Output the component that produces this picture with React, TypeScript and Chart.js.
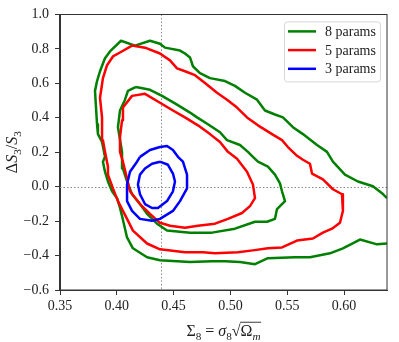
import React, { useEffect, useRef } from 'react';
import { Chart, registerables } from 'chart.js';

Chart.register(...registerables);

// ---------- data ----------
const seriesLabels = ['8 params', '5 params', '3 params'];
const seriesColors = ['#008000', '#ff0000', '#0000ff'];

const xTicks = [0.35, 0.4, 0.45, 0.5, 0.55, 0.6];
const yTicks = [-0.6, -0.4, -0.2, 0.0, 0.2, 0.4, 0.6, 0.8, 1.0];
const xMin = 0.35;
const xMax = 0.6378;
const yMin = -0.6;
const yMax = 1.0;
const refX = 0.4385;
const refY = 0.0;

// 8 params, outer contour
const p8OuterX = [0.6378, 0.6334, 0.6254, 0.6122, 0.6008, 0.5902, 0.5850, 0.5762, 0.5638, 0.5550, 0.5462, 0.5392, 0.5304, 0.5234, 0.5128, 0.5040, 0.4952, 0.4820, 0.4732, 0.4670, 0.4644, 0.4600, 0.4556, 0.4424, 0.4380, 0.4292, 0.4160, 0.4037, 0.3940, 0.3896, 0.3852, 0.3826, 0.3808, 0.3826, 0.3834, 0.3870, 0.3896, 0.3878, 0.3896, 0.3922, 0.3958, 0.4002, 0.4028, 0.4046, 0.4090, 0.4142, 0.4266, 0.4380, 0.4644, 0.4838, 0.4952, 0.5084, 0.5216, 0.5330, 0.5568, 0.5700, 0.5876, 0.5990, 0.6140, 0.6290, 0.6378];
const p8OuterY = [-0.067, -0.038, 0.002, 0.030, 0.070, 0.145, 0.202, 0.242, 0.305, 0.345, 0.402, 0.419, 0.442, 0.505, 0.545, 0.585, 0.613, 0.630, 0.659, 0.699, 0.750, 0.773, 0.790, 0.807, 0.830, 0.847, 0.819, 0.847, 0.785, 0.745, 0.670, 0.613, 0.556, 0.362, 0.305, 0.259, 0.173, 0.145, 0.087, 0.030, -0.027, -0.067, -0.124, -0.170, -0.295, -0.358, -0.410, -0.427, -0.438, -0.433, -0.433, -0.438, -0.450, -0.415, -0.410, -0.410, -0.387, -0.358, -0.307, -0.335, -0.330];

// 8 params, inner contour
const p8InnerX = [0.4169, 0.4292, 0.4398, 0.4530, 0.4644, 0.4706, 0.4802, 0.4908, 0.4970, 0.5084, 0.5154, 0.5198, 0.5242, 0.5330, 0.5392, 0.5436, 0.5454, 0.5480, 0.5410, 0.5392, 0.5322, 0.5216, 0.5040, 0.4838, 0.4644, 0.4442, 0.4354, 0.4266, 0.4204, 0.4134, 0.4090, 0.4054, 0.4046, 0.4010, 0.4028, 0.4072, 0.4098, 0.4169];
const p8InnerY = [0.579, 0.562, 0.527, 0.476, 0.430, 0.402, 0.362, 0.316, 0.270, 0.242, 0.202, 0.173, 0.145, 0.116, 0.070, 0.019, -0.027, -0.084, -0.130, -0.187, -0.204, -0.204, -0.244, -0.267, -0.267, -0.255, -0.215, -0.158, -0.101, -0.044, 0.030, 0.105, 0.202, 0.345, 0.442, 0.505, 0.556, 0.579];

// 5 params, outer contour
const p5OuterX = [0.4134, 0.4248, 0.4380, 0.4468, 0.4530, 0.4600, 0.4688, 0.4776, 0.4882, 0.4970, 0.5058, 0.5146, 0.5242, 0.5366, 0.5454, 0.5506, 0.5586, 0.5638, 0.5700, 0.5718, 0.5814, 0.5902, 0.5982, 0.5990, 0.5990, 0.5964, 0.5894, 0.5814, 0.5726, 0.5586, 0.5454, 0.5330, 0.5198, 0.5066, 0.4864, 0.4758, 0.4600, 0.4380, 0.4266, 0.4142, 0.4090, 0.4054, 0.4010, 0.3966, 0.3922, 0.3922, 0.3896, 0.3878, 0.3870, 0.3852, 0.3878, 0.3914, 0.3966, 0.4028, 0.4134];
const p5OuterY = [0.819, 0.807, 0.773, 0.733, 0.687, 0.670, 0.647, 0.602, 0.545, 0.505, 0.459, 0.402, 0.356, 0.305, 0.270, 0.230, 0.179, 0.156, 0.133, 0.076, 0.042, -0.015, -0.044, -0.084, -0.141, -0.210, -0.244, -0.267, -0.301, -0.313, -0.353, -0.358, -0.370, -0.381, -0.387, -0.381, -0.381, -0.364, -0.330, -0.255, -0.187, -0.141, -0.084, -0.010, 0.070, 0.116, 0.202, 0.270, 0.402, 0.516, 0.630, 0.705, 0.756, 0.779, 0.819];

// 5 params, inner contour
const p5InnerX = [0.4054, 0.4054, 0.4134, 0.4248, 0.4380, 0.4494, 0.4600, 0.4714, 0.4820, 0.4908, 0.4978, 0.5058, 0.5146, 0.5198, 0.5216, 0.5172, 0.5102, 0.4978, 0.4864, 0.4714, 0.4600, 0.4468, 0.4380, 0.4292, 0.4204, 0.4116, 0.4090, 0.4054, 0.4028, 0.4028, 0.4046, 0.4054];
const p5InnerY = [0.402, 0.459, 0.527, 0.539, 0.487, 0.442, 0.402, 0.356, 0.305, 0.259, 0.202, 0.162, 0.087, 0.013, -0.067, -0.113, -0.153, -0.187, -0.215, -0.227, -0.238, -0.227, -0.210, -0.158, -0.101, -0.027, 0.047, 0.145, 0.202, 0.287, 0.385, 0.402];

// 3 params, outer contour
const p3OuterX = [0.4204, 0.4292, 0.4380, 0.4442, 0.4494, 0.4538, 0.4582, 0.4618, 0.4618, 0.4556, 0.4494, 0.4380, 0.4310, 0.4204, 0.4134, 0.4090, 0.4090, 0.4116, 0.4178, 0.4204];
const p3OuterY = [0.173, 0.213, 0.230, 0.236, 0.213, 0.173, 0.145, 0.070, -0.010, -0.084, -0.141, -0.187, -0.198, -0.187, -0.141, -0.084, 0.013, 0.087, 0.145, 0.173];

// 3 params, inner contour
const p3InnerX = [0.4380, 0.4450, 0.4494, 0.4512, 0.4494, 0.4442, 0.4362, 0.4310, 0.4248, 0.4204, 0.4186, 0.4204, 0.4248, 0.4310, 0.4380];
const p3InnerY = [0.145, 0.127, 0.076, 0.030, -0.027, -0.084, -0.124, -0.124, -0.101, -0.044, 0.013, 0.070, 0.105, 0.133, 0.145];

// ---------- helpers ----------
const FONT = "'Liberation Serif', 'Times New Roman', serif";

type Run = { t: string; italic?: boolean; sub?: boolean };

const xTitleRuns: Run[] = [
  { t: 'Σ' }, { t: '8', sub: true }, { t: ' = ' }, { t: 'σ', italic: true }, { t: '8', sub: true },
  { t: '√' }, { t: 'Ω' }, { t: 'm', italic: true, sub: true },
];
const yTitleRuns: Run[] = [
  { t: 'Δ' }, { t: 'S', italic: true }, { t: '3', sub: true }, { t: '/' }, { t: 'S', italic: true }, { t: '3', sub: true },
];

function runFont(r: Run, size: number) {
  const s = r.sub ? size * 0.7 : size;
  return `${r.italic ? 'italic ' : ''}${s}px ${FONT}`;
}

function measureRuns(ctx: CanvasRenderingContext2D, runs: Run[], size: number) {
  let w = 0;
  for (const r of runs) {
    ctx.font = runFont(r, size);
    w += ctx.measureText(r.t).width;
  }
  return w;
}

function drawRuns(ctx: CanvasRenderingContext2D, runs: Run[], x: number, baseline: number, size: number) {
  let cx = x;
  const spans: [number, number][] = [];
  ctx.textAlign = 'left';
  ctx.textBaseline = 'alphabetic';
  for (const r of runs) {
    ctx.font = runFont(r, size);
    const dy = r.sub ? size * 0.22 : 0;
    ctx.fillText(r.t, cx, baseline + dy);
    const w = ctx.measureText(r.t).width;
    spans.push([cx, cx + w]);
    cx += w;
  }
  return spans;
}

function pts(xs: number[], ys: number[]) {
  return xs.map((x, i) => ({ x, y: ys[i] }));
}

const decorPlugin = {
  id: 'decor',
  beforeDatasetsDraw(chart: any) {
    const { ctx, chartArea: ca, scales } = chart;
    const px = scales.x.getPixelForValue(refX);
    const py = scales.y.getPixelForValue(refY);
    ctx.save();
    ctx.strokeStyle = '#8a8a8a';
    ctx.lineWidth = 1;
    ctx.setLineDash([1.5, 2]);
    ctx.beginPath();
    ctx.moveTo(Math.round(px) + 0.5, ca.top);
    ctx.lineTo(Math.round(px) + 0.5, ca.bottom);
    ctx.moveTo(ca.left, Math.round(py) + 0.5);
    ctx.lineTo(ca.right, Math.round(py) + 0.5);
    ctx.stroke();
    ctx.restore();
  },
  afterDatasetsDraw(chart: any) {
    const { ctx, chartArea: ca } = chart;
    ctx.save();
    // frame
    ctx.strokeStyle = '#333';
    ctx.lineWidth = 1;
    ctx.setLineDash([]);
    ctx.strokeRect(Math.round(ca.left) - 0.5, Math.round(ca.top) + 0.5, Math.round(ca.right) - Math.round(ca.left) + 0.5, Math.round(ca.bottom) - Math.round(ca.top) - 0.5);
    // legend
    const bw = 96, bh = 60;
    const bx = ca.right - 7 - bw;
    const by = ca.top + 7;
    ctx.beginPath();
    (ctx as any).roundRect(bx + 0.5, by + 0.5, bw, bh, 3);
    ctx.fillStyle = 'rgba(255,255,255,0.85)';
    ctx.fill();
    ctx.strokeStyle = '#d6d6d6';
    ctx.stroke();
    seriesLabels.forEach((lab, i) => {
      const ly = by + 10 + i * 18.7;
      ctx.strokeStyle = seriesColors[i];
      ctx.lineWidth = 2.5;
      ctx.beginPath();
      ctx.moveTo(bx + 4, ly);
      ctx.lineTo(bx + 32, ly);
      ctx.stroke();
      ctx.fillStyle = '#222';
      ctx.font = `14px ${FONT}`;
      ctx.textAlign = 'left';
      ctx.textBaseline = 'middle';
      ctx.fillText(lab, bx + 41, ly + 1);
    });
    ctx.restore();
  },
  afterDraw(chart: any) {
    const { ctx, chartArea: ca } = chart;
    ctx.save();
    ctx.fillStyle = '#222';
    // x title
    const xs = 16;
    const xw = measureRuns(ctx, xTitleRuns, xs);
    const xBase = 336;
    const spans = drawRuns(ctx, xTitleRuns, (ca.left + ca.right) / 2 - xw / 2, xBase, xs);
    const sq = spans[5];
    const end = spans[7];
    ctx.strokeStyle = '#222';
    ctx.lineWidth = 0.9;
    ctx.beginPath();
    ctx.moveTo(sq[1] - 0.5, xBase - xs * 0.86);
    ctx.lineTo(end[1] + 0.5, xBase - xs * 0.86);
    ctx.stroke();
    // y title
    const ys = 16;
    const yw = measureRuns(ctx, yTitleRuns, ys);
    ctx.translate(17, (ca.top + ca.bottom) / 2);
    ctx.rotate(-Math.PI / 2);
    drawRuns(ctx, yTitleRuns, -yw / 2, 0, ys);
    ctx.restore();
  },
};

export default function App() {
  const ref = useRef<HTMLCanvasElement>(null);
  useEffect(() => {
    const canvas = ref.current!;
    const mk = (xs: number[], ys: number[], ci: number, label: string) => ({
      label,
      data: pts(xs, ys),
      showLine: true,
      borderColor: seriesColors[ci],
      backgroundColor: seriesColors[ci],
      borderWidth: 2.5,
      pointRadius: 0,
      pointHoverRadius: 0,
      tension: 0,
      fill: false,
      borderJoinStyle: 'round' as const,
      order: 3 - ci,
    });
    const chart = new Chart(canvas, {
      type: 'scatter',
      data: {
        datasets: [
          mk(p8OuterX, p8OuterY, 0, seriesLabels[0]),
          mk(p8InnerX, p8InnerY, 0, seriesLabels[0]),
          mk(p5OuterX, p5OuterY, 1, seriesLabels[1]),
          mk(p5InnerX, p5InnerY, 1, seriesLabels[1]),
          mk(p3OuterX, p3OuterY, 2, seriesLabels[2]),
          mk(p3InnerX, p3InnerY, 2, seriesLabels[2]),
        ],
      },
      options: {
        responsive: false,
        animation: false,
        devicePixelRatio: 1,
        layout: { padding: { left: 0, right: 12, top: 10, bottom: 0 } },
        plugins: { legend: { display: false }, tooltip: { enabled: false } },
        events: [],
        scales: {
          x: {
            type: 'linear',
            min: xMin,
            max: xMax,
            afterBuildTicks: (s: any) => { s.ticks = xTicks.map((v) => ({ value: v })); },
            afterFit: (s: any) => { s.height = 52; },
            ticks: {
              callback: (v: any) => Number(v).toFixed(2),
              font: { family: FONT, size: 14 },
              color: '#222',
              padding: 3,
              maxRotation: 0,
              autoSkip: false,
            },
            grid: { display: true, drawOnChartArea: false, drawTicks: true, tickLength: 5, color: '#333' },
            border: { display: true, color: '#333' },
          },
          y: {
            type: 'linear',
            min: yMin,
            max: yMax,
            afterBuildTicks: (s: any) => { s.ticks = yTicks.map((v) => ({ value: v })); },
            afterFit: (s: any) => { s.width = 60; },
            ticks: {
              callback: (v: any) => Number(v).toFixed(1).replace('-', '\u2212'),
              font: { family: FONT, size: 14 },
              color: '#222',
              padding: 6,
              autoSkip: false,
            },
            grid: { display: true, drawOnChartArea: false, drawTicks: true, tickLength: 5, color: '#333' },
            border: { display: true, color: '#333' },
          },
        },
      },
      plugins: [decorPlugin],
    } as any);
    return () => chart.destroy();
  }, []);
  return (
    <div style={{ position: 'fixed', left: 0, top: 0, width: 399, height: 342, background: '#fff' }}>
      <canvas ref={ref} width={399} height={342} style={{ display: 'block', width: 399, height: 342 }} />
    </div>
  );
}
